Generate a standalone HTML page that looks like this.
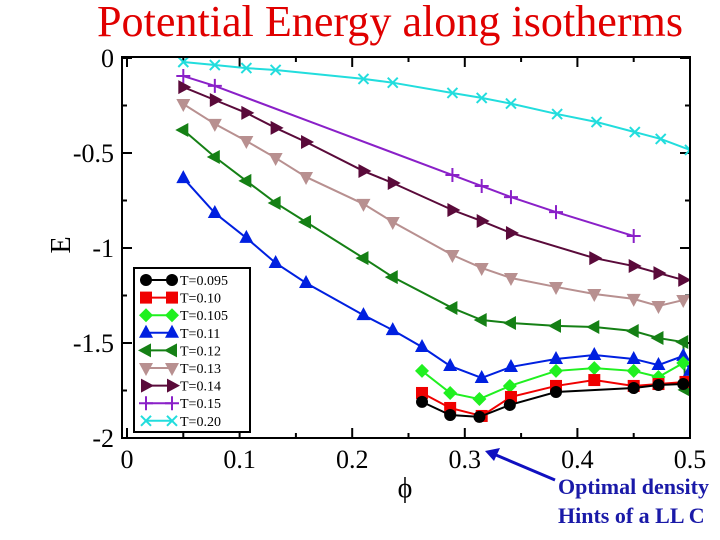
<!DOCTYPE html>
<html><head><meta charset="utf-8"><style>
body{margin:0;background:#fff;overflow:hidden;}
svg{display:block;font-family:"Liberation Serif",serif;}
</style></head><body>
<svg id="chart" width="720" height="540">
<text x="390" y="36" text-anchor="middle" font-size="44" textLength="586" lengthAdjust="spacingAndGlyphs" fill="#e00000">Potential Energy along isotherms</text>
<g id="plot"></g>
<text transform="translate(70,245) rotate(-90)" text-anchor="middle" font-size="28">E</text>
<text x="405" y="497" text-anchor="middle" font-size="28">ϕ</text>
<line x1="555" y1="480" x2="496" y2="455" stroke="#1010c0" stroke-width="3"/>
<polygon points="485,451 500,448 494,461" fill="#1010c0"/>
<text x="558" y="494" font-size="22" font-weight="bold" fill="#1a1aa8">Optimal density</text>
<text x="558" y="523" font-size="22" font-weight="bold" fill="#1a1aa8">Hints of a LL C</text>
</svg>
<script>
const xTicks=[0,0.1,0.2,0.3,0.4,0.5];
const xTickLabels=["0","0.1","0.2","0.3","0.4","0.5"];
const yTicks=[0,-0.5,-1,-1.5,-2];
const yTickLabels=["0","-0.5","-1","-1.5","-2"];
const labels=["T=0.095","T=0.10","T=0.105","T=0.11","T=0.12","T=0.13","T=0.14","T=0.15","T=0.20"];
const x095=[0.262,0.287,0.313,0.34,0.381,0.45,0.472,0.494];
const y095=[-1.81,-1.879,-1.889,-1.826,-1.758,-1.737,-1.721,-1.716];
const x10=[0.262,0.287,0.315,0.341,0.381,0.415,0.45,0.472,0.496];
const y10=[-1.763,-1.842,-1.884,-1.784,-1.726,-1.695,-1.726,-1.716,-1.705];
const x105=[0.262,0.287,0.313,0.34,0.381,0.415,0.45,0.472,0.494];
const y105=[-1.647,-1.763,-1.795,-1.726,-1.647,-1.632,-1.647,-1.679,-1.605];
const x11=[0.05,0.078,0.106,0.132,0.159,0.21,0.236,0.262,0.287,0.315,0.341,0.381,0.415,0.45,0.472,0.494,0.5];
const y11=[-0.632,-0.816,-0.947,-1.079,-1.184,-1.353,-1.432,-1.521,-1.621,-1.684,-1.626,-1.584,-1.563,-1.584,-1.616,-1.568,-1.647];
const x12=[0.05,0.078,0.106,0.132,0.159,0.21,0.236,0.289,0.315,0.341,0.381,0.415,0.45,0.472,0.494,0.496];
const y12=[-0.379,-0.521,-0.647,-0.763,-0.863,-1.053,-1.153,-1.316,-1.379,-1.395,-1.41,-1.416,-1.437,-1.474,-1.495,-1.747];
const x13=[0.05,0.078,0.106,0.132,0.159,0.21,0.236,0.289,0.315,0.341,0.381,0.415,0.45,0.472,0.494];
const y13=[-0.242,-0.347,-0.437,-0.526,-0.626,-0.768,-0.863,-1.037,-1.105,-1.158,-1.205,-1.242,-1.268,-1.305,-1.274];
const x14=[0.05,0.078,0.106,0.132,0.159,0.21,0.236,0.289,0.315,0.341,0.415,0.45,0.472,0.494];
const y14=[-0.153,-0.221,-0.289,-0.368,-0.442,-0.595,-0.658,-0.8,-0.858,-0.921,-1.053,-1.095,-1.132,-1.168];
const x15=[0.05,0.078,0.289,0.315,0.341,0.381,0.45];
const y15=[-0.095,-0.147,-0.616,-0.674,-0.732,-0.811,-0.937];
const x20=[0.05,0.078,0.106,0.132,0.21,0.236,0.289,0.315,0.341,0.382,0.417,0.451,0.474,0.5];
const y20=[-0.021,-0.037,-0.053,-0.063,-0.11,-0.13,-0.184,-0.21,-0.24,-0.295,-0.337,-0.39,-0.426,-0.484];

const NS="http://www.w3.org/2000/svg";
const L=122,R=690,T=57,B=438;
function sx(v){return 127+v*1126;}
function sy(v){return 58-v*190;}
const plot=document.getElementById('plot');
function mk(tag,attrs,parent){const e=document.createElementNS(NS,tag);for(const k in attrs)e.setAttribute(k,attrs[k]);(parent||plot).appendChild(e);return e;}

const defs=mk('defs',{});
const cp=mk('clipPath',{id:'clip'},defs);
mk('rect',{x:L,y:T,width:R-L,height:B-T},cp);

for(let v=0;v<=0.5001;v+=0.05){
  const big=Math.abs(v*10-Math.round(v*10))<1e-6;
  const len=big?10:5;
  const t1=mk('line',{x1:sx(v),x2:sx(v),y1:B,y2:B-len,stroke:'#000','stroke-width':2});
  
  
  const t2=mk('line',{x1:sx(v),x2:sx(v),y1:T,y2:T+len,stroke:'#000','stroke-width':2});
  
  
}
for(let v=0;v>=-2.0001;v-=0.25){
  const big=Math.abs(v*2-Math.round(v*2))<1e-6;
  const len=big?10:5;
  const t1=mk('line',{x1:L,x2:L+len,y1:sy(v),y2:sy(v),stroke:'#000','stroke-width':2});
  
  
  const t2=mk('line',{x1:R,x2:R-len,y1:sy(v),y2:sy(v),stroke:'#000','stroke-width':2});
  
  
}
xTicks.forEach((v,i)=>{
  const t=mk('text',{x:sx(v),y:468,'text-anchor':'middle','font-size':26});
  t.textContent=xTickLabels[i];
  
  
});
yTicks.forEach((v,i)=>{
  const t=mk('text',{x:114,y:sy(v)+9,'text-anchor':'end','font-size':26});
  t.textContent=yTickLabels[i];
  
  
});

function marker(g,type,x,y,c){
  let e;
  if(type==='circle')e=mk('circle',{cx:x,cy:y,r:6,fill:c},g);
  else if(type==='square')e=mk('rect',{x:x-6,y:y-6,width:12,height:12,fill:c},g);
  else if(type==='diamond')e=mk('polygon',{points:`${x},${y-7} ${x+7},${y} ${x},${y+7} ${x-7},${y}`,fill:c},g);
  else if(type==='up')e=mk('polygon',{points:`${x},${y-8} ${x+7},${y+5} ${x-7},${y+5}`,fill:c},g);
  else if(type==='down')e=mk('polygon',{points:`${x},${y+8} ${x+7},${y-5} ${x-7},${y-5}`,fill:c},g);
  else if(type==='left')e=mk('polygon',{points:`${x-8},${y} ${x+5},${y-7} ${x+5},${y+7}`,fill:c},g);
  else if(type==='right')e=mk('polygon',{points:`${x+8},${y} ${x-5},${y-7} ${x-5},${y+7}`,fill:c},g);
  else if(type==='plus')e=mk('path',{d:`M${x-7},${y}H${x+7}M${x},${y-7}V${y+7}`,stroke:c,'stroke-width':2,fill:'none'},g);
  else e=mk('path',{d:`M${x-5},${y-5}L${x+5},${y+5}M${x-5},${y+5}L${x+5},${y-5}`,stroke:c,'stroke-width':2,fill:'none'},g);
  
  
}
const series=[
 [x20,y20,'#22dddd','cross','series-t020'],
 [x15,y15,'#8a20c8','plus','series-t015'],
 [x14,y14,'#5a0a3a','right','series-t014'],
 [x13,y13,'#b89090','down','series-t013'],
 [x12,y12,'#158015','left','series-t012'],
 [x11,y11,'#0020e0','up','series-t011'],
 [x105,y105,'#20f020','diamond','series-t0105'],
 [x10,y10,'#f00000','square','series-t010'],
 [x095,y095,'#000000','circle','series-t0095']
];
series.forEach(s=>{
  const g=mk('g',{'clip-path':'url(#clip)'});
  
  
  const pts=s[0].map((v,i)=>sx(v)+','+sy(s[1][i])).join(' ');
  const pl=mk('polyline',{points:pts,fill:'none',stroke:s[2],'stroke-width':2},g);
  
  
  s[0].forEach((v,i)=>marker(g,s[3],sx(v),sy(s[1][i]),s[2]));
});
const fr=mk('rect',{x:L,y:T,width:R-L,height:B-T,fill:'none',stroke:'#000','stroke-width':2});



const lg=mk('g',{});


const lb=mk('rect',{x:134,y:268,width:116,height:164,fill:'#fff',stroke:'#000','stroke-width':2},lg);


const order=series.slice().reverse();
order.forEach((s,i)=>{
  const y=280+i*17.6;
  const e=mk('g',{},lg);
  
  
  mk('line',{x1:146,x2:172,y1:y,y2:y,stroke:s[2],'stroke-width':2},e);
  marker(e,s[3],146,y,s[2]);
  marker(e,s[3],172,y,s[2]);
  const t=mk('text',{x:180,y:y+5,'font-size':14},e);
  t.textContent=labels[i];
});
</script>
</body></html>
